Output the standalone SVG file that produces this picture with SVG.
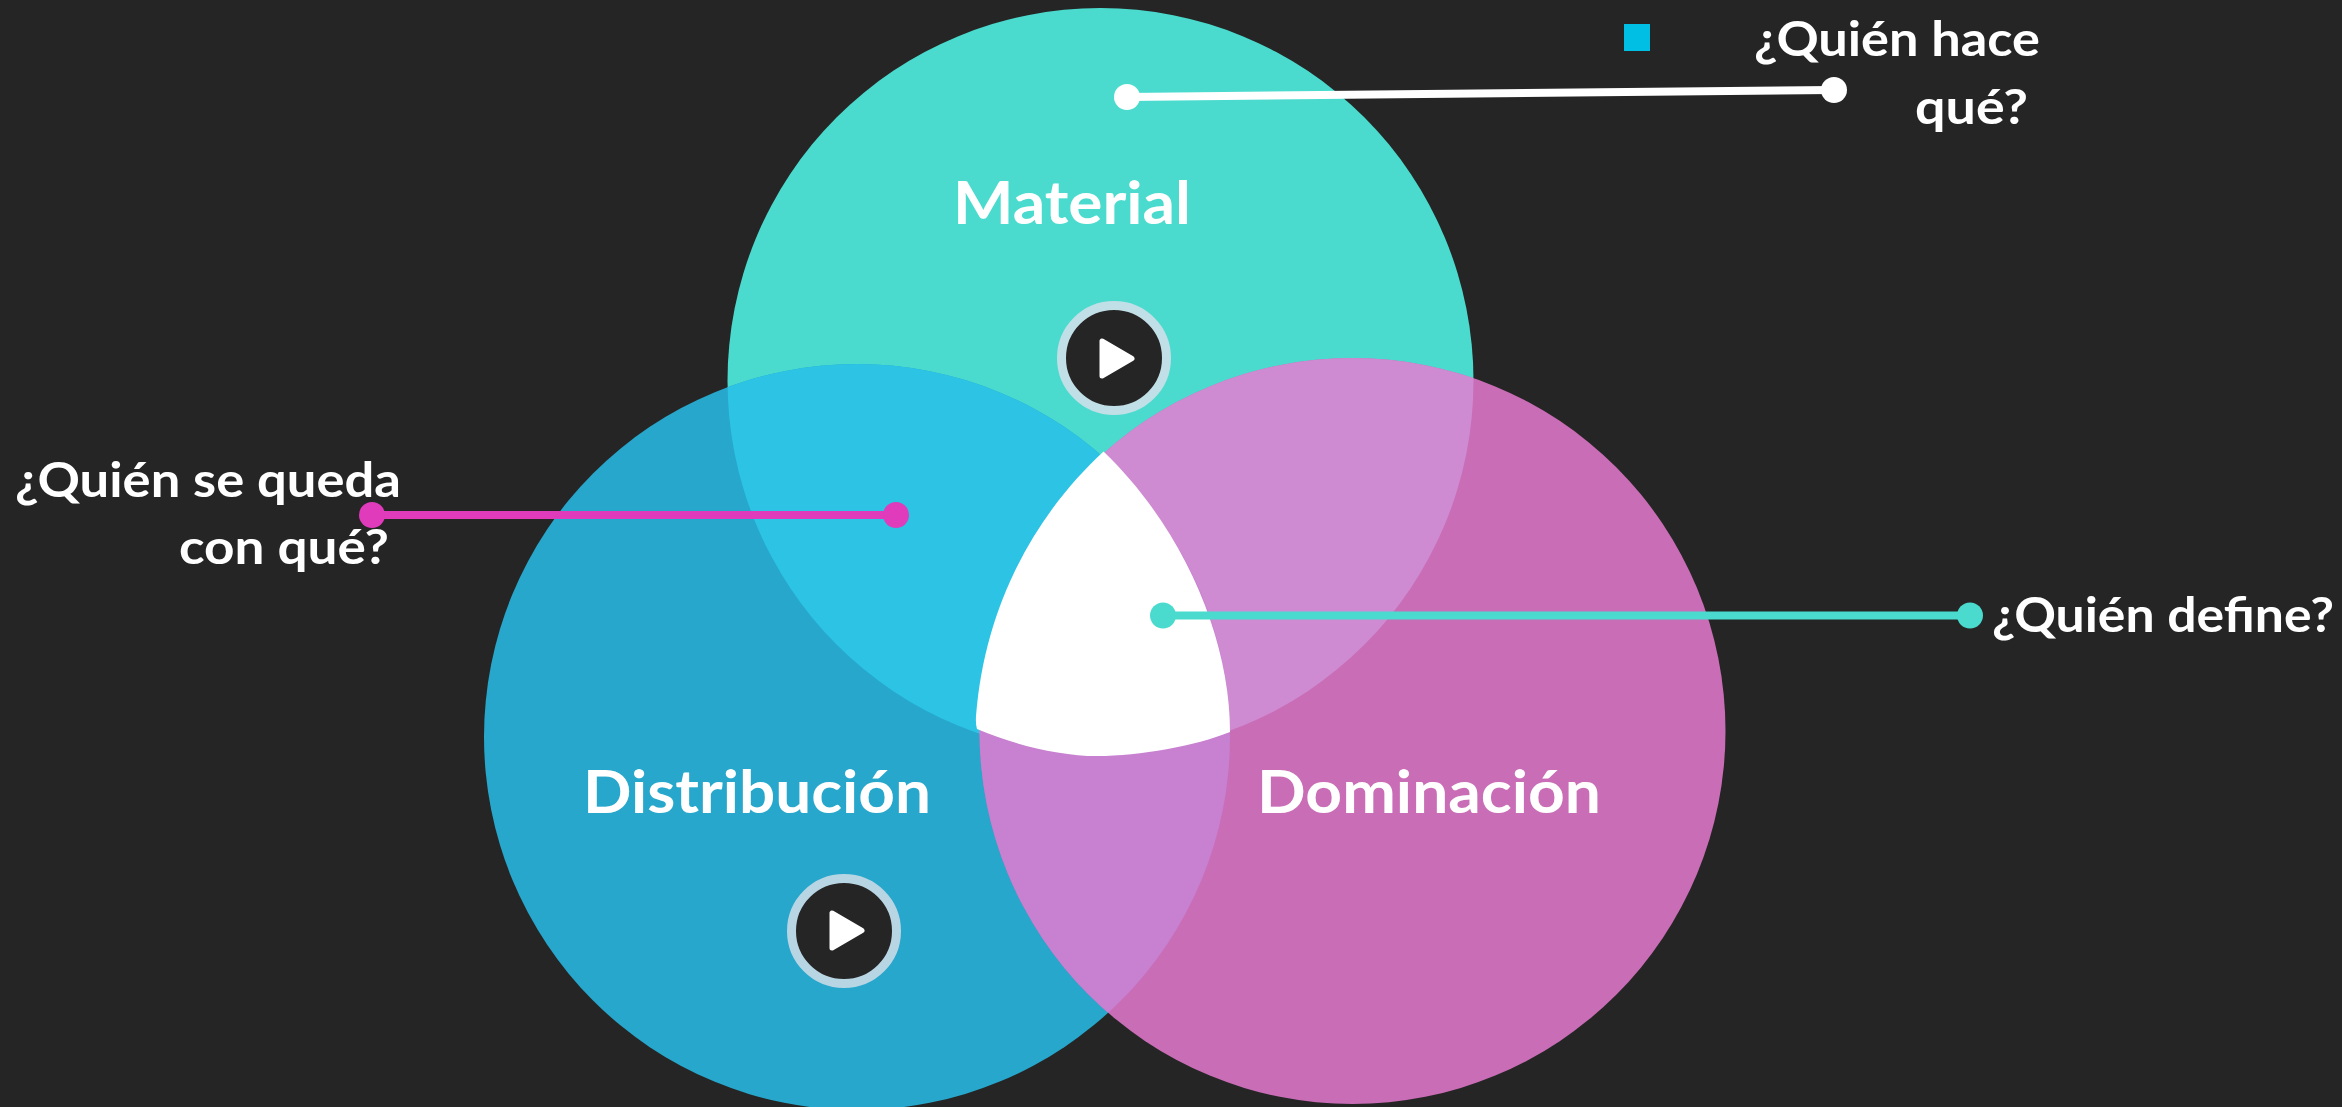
<svg xmlns="http://www.w3.org/2000/svg" width="2342" height="1107" viewBox="0 0 2342 1107">
<style>
text{font-family:"Lato","Open Sans","Liberation Sans",sans-serif;font-weight:700;fill:#fff}
.big{font-size:60px}
.q{font-size:48px}
.tri{fill:#fff;stroke:#fff;stroke-width:5;stroke-linejoin:round}
.inner{fill:#252525;stroke-width:9}
</style>
<defs>
<clipPath id="cm"><circle cx="1100.5" cy="381" r="373"/></clipPath>
<clipPath id="cd"><circle cx="857" cy="737" r="373"/></clipPath>
</defs>
<rect width="2342" height="1107" fill="#252525"/>
<g id="material"><circle cx="1100.5" cy="381" r="373" fill="#4BDBCE"/></g>
<g id="distribucion"><circle cx="857" cy="737" r="373" fill="#27A7CB"/></g>
<g id="dominacion"><circle cx="1352.500" cy="731" r="373" fill="#C96DB6"/></g>
<g id="overlaps">
<circle cx="857" cy="737" r="373" fill="#2CC3E5" clip-path="url(#cm)"/>
<circle cx="1352.500" cy="731" r="373" fill="#CE8BD2" clip-path="url(#cm)"/>
<circle cx="1352.500" cy="731" r="373" fill="#C880D0" clip-path="url(#cd)"/>
<path id="centre" fill="#fff" d="M1103.500 451.500C1040 510 985 600 976 716Q975.500 725 977 729C1015 745 1060 756 1097 756C1140 756 1195 746 1230 732C1230 640 1185 530 1103.500 451.500Z"/>
</g>
<g id="square"><rect x="1624" y="24" width="26" height="27" fill="#00BFE5"/></g>
<g id="connectors" stroke-width="8">
<line x1="1127" y1="97" x2="1833" y2="90" stroke="#fff"/>
<circle cx="1127" cy="97" r="13" fill="#fff"/><circle cx="1834" cy="90" r="13" fill="#fff"/>
<line x1="372" y1="515" x2="896" y2="515" stroke="#DF3BBB"/>
<circle cx="372" cy="515" r="13" fill="#DF3BBB"/><circle cx="896" cy="515" r="13" fill="#DF3BBB"/>
<line x1="1163" y1="615.500" x2="1970" y2="615.500" stroke="#4BDBCE"/>
<circle cx="1163" cy="615.500" r="13" fill="#4BDBCE"/><circle cx="1970" cy="615.500" r="13" fill="#4BDBCE"/>
</g>
<g id="play-material"><circle class="inner" cx="1114" cy="358" r="52.500" stroke="#C1DFE6"/><path class="tri" d="M1102 341V376L1132 358.500Z"/></g>
<g id="play-distribucion"><circle class="inner" cx="844" cy="931" r="52.500" stroke="#B8D5E4"/><path class="tri" d="M832 913V948L862 930.500Z"/></g>
<g id="labels">
<text class="big" x="953" y="224" textLength="238" lengthAdjust="spacingAndGlyphs">Material</text>
<text class="big" x="583" y="813" textLength="348" lengthAdjust="spacingAndGlyphs">Distribución</text>
<text class="big" x="1257" y="813" textLength="344" lengthAdjust="spacingAndGlyphs">Dominación</text>
<text class="q" x="1754" y="56" textLength="286" lengthAdjust="spacingAndGlyphs">¿Quién hace</text>
<text class="q" x="1915" y="124" textLength="113" lengthAdjust="spacingAndGlyphs">qué?</text>
<text class="q" x="15" y="497" textLength="386" lengthAdjust="spacingAndGlyphs">¿Quién se queda</text>
<text class="q" x="179" y="564" textLength="210" lengthAdjust="spacingAndGlyphs">con qué?</text>
<text class="q" x="1992" y="632" textLength="342" lengthAdjust="spacingAndGlyphs">¿Quién define?</text>
</g>
</svg>
